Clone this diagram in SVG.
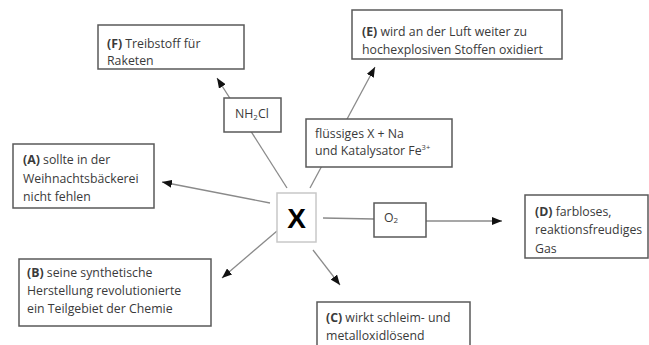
<svg xmlns="http://www.w3.org/2000/svg" width="649" height="345" viewBox="0 0 649 345">
<style>
.box{fill:#fff;stroke:#595959;stroke-width:1.5}
.lbox{fill:#fff;stroke:#c8c8c8;stroke-width:1.5}
.t{font-family:"Open Sans","Noto Sans",sans-serif;font-size:12.3px;fill:#3a3a3a}
.b{font-weight:bold}
.c{stroke:#8a8a8a;stroke-width:1.3;fill:none}
</style>
<defs>
<marker id="ah" markerUnits="userSpaceOnUse" markerWidth="10" markerHeight="8" refX="10" refY="4" orient="auto">
<path d="M0,0 L10,4 L0,8 z" fill="#111"/>
</marker>
</defs>
<g id="connectors">
<line class="c" x1="287" y1="188" x2="217" y2="78" marker-end="url(#ah)"/>
<line class="c" x1="310" y1="188" x2="375" y2="67" marker-end="url(#ah)"/>
<line class="c" x1="270" y1="203" x2="162" y2="182" marker-end="url(#ah)"/>
<line class="c" x1="277" y1="231" x2="222" y2="278" marker-end="url(#ah)"/>
<line class="c" x1="313" y1="250" x2="340" y2="285" marker-end="url(#ah)"/>
<line class="c" x1="323" y1="218" x2="374" y2="219"/>
<line class="c" x1="426" y1="221" x2="502" y2="221" marker-end="url(#ah)"/>
</g>
<g id="nodeF">
<rect class="box" x="98" y="25" width="146" height="44"/>
<text class="t" x="107" y="48"><tspan class="b">(F)</tspan> Treibstoff für</text>
<text class="t" x="107" y="65">Raketen</text>
</g>
<g id="nodeE">
<rect class="box" x="352" y="10" width="210" height="49"/>
<text class="t" x="362" y="36"><tspan class="b">(E)</tspan> wird an der Luft weiter zu</text>
<text class="t" x="362" y="54">hochexplosiven Stoffen oxidiert</text>
</g>
<g id="nodeNH2Cl">
<rect class="box" x="224" y="98" width="57" height="34"/>
<text class="t" x="235" y="118">NH<tspan font-size="8" dy="2">2</tspan><tspan dy="-2">Cl</tspan></text>
</g>
<g id="nodeCond">
<rect class="box" x="306" y="119" width="146" height="48"/>
<text class="t" x="315" y="138">flüssiges X + Na</text>
<text class="t" x="315" y="155">und Katalysator Fe<tspan font-size="7.5" dy="-5">3+</tspan></text>
</g>
<g id="nodeA">
<rect class="box" x="13" y="144" width="141" height="64"/>
<text class="t" x="23" y="164"><tspan class="b">(A)</tspan> sollte in der</text>
<text class="t" x="23" y="183">Weihnachtsbäckerei</text>
<text class="t" x="23" y="201">nicht fehlen</text>
</g>
<g id="nodeX">
<rect class="lbox" x="277" y="193" width="39" height="49"/>
<text x="296.5" y="228" text-anchor="middle" font-family="Liberation Sans,Arial,sans-serif" font-weight="bold" font-size="28" fill="#000">X</text>
</g>
<g id="nodeO2">
<rect class="box" x="374" y="203" width="52" height="34"/>
<text class="t" x="384" y="222" font-size="11">O<tspan font-size="8" dy="1">2</tspan></text>
</g>
<g id="nodeD">
<rect class="box" x="525" y="195" width="123" height="63"/>
<text class="t" x="535" y="216"><tspan class="b">(D)</tspan> farbloses,</text>
<text class="t" x="535" y="234">reaktionsfreudiges</text>
<text class="t" x="535" y="253">Gas</text>
</g>
<g id="nodeB">
<rect class="box" x="19" y="259" width="192" height="67"/>
<text class="t" x="27" y="277"><tspan class="b">(B)</tspan> seine synthetische</text>
<text class="t" x="27" y="295">Herstellung revolutionierte</text>
<text class="t" x="27" y="313">ein Teilgebiet der Chemie</text>
</g>
<g id="nodeC">
<rect class="box" x="317" y="302" width="153" height="50"/>
<text class="t" x="326" y="322"><tspan class="b">(C)</tspan> wirkt schleim- und</text>
<text class="t" x="326" y="340">metalloxidlösend</text>
</g>
</svg>
